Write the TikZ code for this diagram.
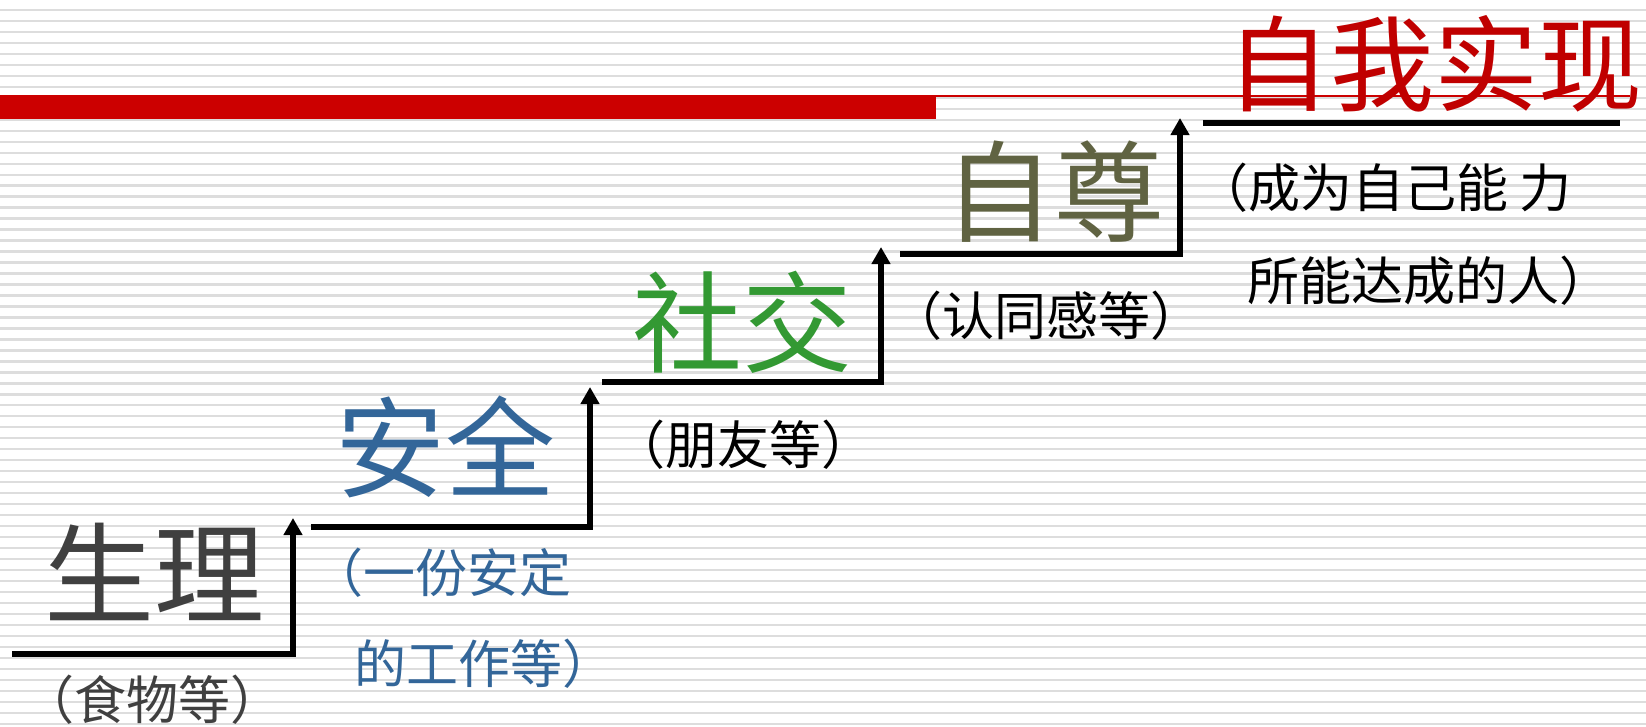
\documentclass[tikz,border=0pt]{standalone}
\usepackage{fontspec}
\newfontfamily\cjk{Noto Sans CJK SC}
\usetikzlibrary{arrows.meta}
\definecolor{stripe}{HTML}{DDDDDD}
\definecolor{barred}{HTML}{CC0000}
\definecolor{titlered}{HTML}{C00000}
\definecolor{physgray}{HTML}{404040}
\definecolor{safeblue}{HTML}{336699}
\definecolor{socgreen}{HTML}{339933}
\definecolor{esteemolive}{RGB}{96,99,66}
\tikzset{
  title/.style={inner sep=0pt, font=\cjk\fontsize{110}{110}\selectfont},
  sub/.style={inner sep=0pt, font=\cjk\fontsize{52}{52}\selectfont},
  stair/.style={line width=5.5pt, line join=miter},
  stairarrow/.style={stair, -{Triangle[length=17pt,width=18pt]}},
}
\begin{document}
\begin{tikzpicture}[x=1pt,y=-1pt]
\useasboundingbox (0,0) rectangle (1646,726);
\fill[white] (0,0) rectangle (1646,726);
% background stripes
\foreach \k in {0,...,65}{
  \draw[stripe, line width=2.4pt] (0,{10+10.98*\k}) -- (1646,{10+10.98*\k});
}
% red bar and thin line
\fill[barred] (0,95) rectangle (936,119);
\draw[barred, line width=2pt] (936,96) -- (1630,96);

% stair coordinates
\coordinate (s1a) at (12,654);   \coordinate (s1b) at (293,654);  \coordinate (s1t) at (293,518);
\coordinate (s2a) at (311,527);  \coordinate (s2b) at (590,527);  \coordinate (s2t) at (590,387);
\coordinate (s3a) at (602,382);  \coordinate (s3b) at (881,382);  \coordinate (s3t) at (881,247);
\coordinate (s4a) at (900,254);  \coordinate (s4b) at (1180,254); \coordinate (s4t) at (1180,118);
\coordinate (s5a) at (1203,123); \coordinate (s5b) at (1620,123);

\draw[stairarrow] (s1a) -- (s1b) -- (s1t);
\draw[stairarrow] (s2a) -- (s2b) -- (s2t);
\draw[stairarrow] (s3a) -- (s3b) -- (s3t);
\draw[stairarrow] (s4a) -- (s4b) -- (s4t);
\draw[stair] (s5a) -- (s5b);

% titles
\node[title, text=physgray] (phys) at (154,572) {生理};
\node[title, text=safeblue] (safe) at (445,447) {安全};
\node[title, text=socgreen] (soc) at (742,322) {社交};
\node[title, text=esteemolive] (esteem) at (1054,192) {自尊};
\node[title, text=titlered, font=\cjk\fontsize{104}{104}\selectfont] (self) at (1434,64) {自我实现};

% subtitles
\node[sub, text=physgray] (physsub) at (152,700) {（食物等）};
\node[sub, text=safeblue, anchor=west] (safesub1) at (311,573) {（一份安定};
\node[sub, text=safeblue, anchor=west] (safesub2) at (354,664) {的工作等）};
\node[sub, text=black] (socsub) at (743,445) {（朋友等）};
\node[sub, text=black] (esteemsub) at (1046,316) {（认同感等）};
\node[sub, text=black, anchor=west] (selfsub1) at (1196,188) {（成为自己能 力};
\node[sub, text=black, anchor=west] (selfsub2) at (1247,281) {所能达成的人）};
\end{tikzpicture}
\end{document}
